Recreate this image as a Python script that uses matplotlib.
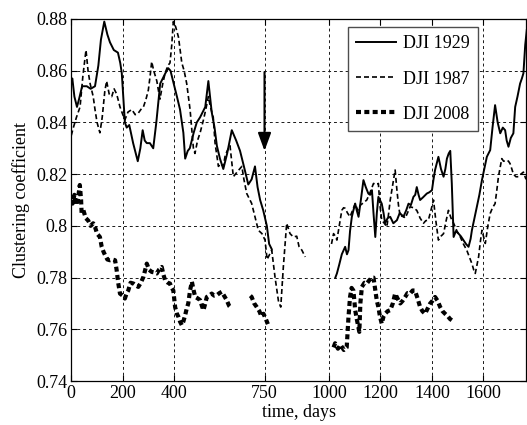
import numpy as np
import matplotlib
matplotlib.use("Agg")
import matplotlib.pyplot as plt

nan = np.nan

# --- DJI 1929 (solid) ---
days_1929 = [0, 4, 12, 22, 30, 42, 60, 75, 92, 105, 115, 128, 140, 150, 165, 181, 190, 196,
             208, 215, 225, 240, 258, 268, 277, 285, 293, 305, 318, 330, 345, 355, 365, 376,
             385, 395, 410, 422, 435, 442, 452, 460, 475, 487, 500, 520, 532, 545, 556, 565,
             577, 590, 605, 623, 640, 655, 670, 687, 700, 713, 723, 733, 745, 759, 768, 778,
             nan,
             1025, 1031, 1040, 1050, 1063, 1070, 1076, 1082, 1089, 1095, 1102, 1108, 1115,
             1124, 1134, 1143, 1153, 1160, 1167, 1173, 1180, 1186, 1192, 1205, 1212, 1218,
             1228, 1238, 1250, 1264, 1275, 1289, 1300, 1309, 1318, 1328, 1335, 1341, 1348,
             1354, 1365, 1380, 1390, 1400, 1406, 1412, 1418, 1425, 1435, 1445, 1452, 1458,
             1465, 1471, 1477, 1484, 1493, 1503, 1512, 1522, 1532, 1542, 1550, 1555, 1565,
             1574, 1584, 1594, 1603, 1613, 1626, 1635, 1645, 1655, 1665, 1675, 1684, 1690,
             1697, 1706, 1716, 1723, 1732, 1742, 1749, 1755, 1762, 1768]
cc_1929 = [0.856, 0.857, 0.850, 0.846, 0.849, 0.854, 0.854, 0.853, 0.854, 0.862, 0.872, 0.879,
           0.874, 0.871, 0.868, 0.867, 0.863, 0.859, 0.840, 0.838, 0.839, 0.832, 0.825, 0.830,
           0.837, 0.833, 0.832, 0.832, 0.830, 0.840, 0.855, 0.857, 0.859, 0.861, 0.860, 0.856,
           0.850, 0.845, 0.836, 0.826, 0.829, 0.830, 0.836, 0.840, 0.842, 0.846, 0.856, 0.844,
           0.838, 0.831, 0.826, 0.822, 0.828, 0.837, 0.833, 0.829, 0.823, 0.816, 0.818, 0.823,
           0.815, 0.810, 0.806, 0.800, 0.793, 0.791,
           nan,
           0.780, 0.7816, 0.785, 0.789, 0.7919, 0.789, 0.7906, 0.798, 0.8035, 0.806, 0.8086,
           0.806, 0.8035, 0.810, 0.8177, 0.815, 0.8125, 0.812, 0.8138, 0.805, 0.7957, 0.805,
           0.8112, 0.8086, 0.805, 0.801, 0.803, 0.8035, 0.801, 0.8022, 0.805, 0.8035, 0.806,
           0.8086, 0.808, 0.8112, 0.812, 0.815, 0.812, 0.810, 0.811, 0.8125, 0.813, 0.8138,
           0.818, 0.8216, 0.824, 0.8267, 0.822, 0.819, 0.822, 0.826, 0.828, 0.829, 0.8164,
           0.7957, 0.798, 0.797, 0.796, 0.7945, 0.793, 0.7919, 0.795, 0.7983, 0.803, 0.8074,
           0.812, 0.8177, 0.822, 0.8267, 0.8293, 0.838, 0.8467, 0.840, 0.8358, 0.838, 0.837,
           0.833, 0.8306, 0.834, 0.8358, 0.846, 0.850, 0.855, 0.857, 0.859, 0.870, 0.8757]

# --- DJI 1987 (dashed) ---
days_1987 = [0, 8, 20, 34, 45, 57, 65, 73, 85, 92, 100, 111, 120, 130, 137, 147, 157, 166, 176,
             189, 200, 208, 220, 235, 248, 260, 270, 280, 290, 299, 306, 312, 320, 332, 344, 355,
             364, 375, 383, 390, 396, 405, 416, 429, 438, 448, 461, 474, 480, 490, 500, 513, 522,
             532, 540, 551, 558, 571, 580, 590, 597, 605, 616, 629, 645, 662, 670, 681, 700, 713,
             726, 740, 752, 760, 770, 778, 791, 804, 813, 823, 836, 849, 862, 875, 884, 895, 908,
             nan,
             1010, 1018, 1025, 1031, 1040, 1050, 1057, 1063, 1072, 1082, 1092, 1102, 1112, 1122,
             1135, 1147, 1160, 1173, 1185, 1192, 1198, 1205, 1215, 1225, 1232, 1238, 1248, 1257,
             1264, 1270, 1277, 1286, 1296, 1305, 1315, 1328, 1341, 1354, 1367, 1376, 1386, 1396,
             1406, 1415, 1425, 1435, 1445, 1455, 1464, 1474, 1484, 1497, 1510, 1522, 1535, 1545,
             1555, 1562, 1568, 1575, 1581, 1588, 1594, 1600, 1607, 1617, 1626, 1635, 1645, 1652,
             1658, 1665, 1671, 1678, 1691, 1697, 1703, 1710, 1716, 1726, 1736, 1745, 1755, 1765]
cc_1987 = [0.835, 0.838, 0.842, 0.846, 0.858, 0.868, 0.860, 0.855, 0.850, 0.845, 0.840, 0.836,
           0.842, 0.852, 0.856, 0.851, 0.850, 0.853, 0.851, 0.846, 0.843, 0.841, 0.844, 0.845,
           0.843, 0.8436, 0.845, 0.846, 0.849, 0.8525, 0.858, 0.8635, 0.860, 0.856, 0.849, 0.855,
           0.859, 0.862, 0.863, 0.870, 0.879, 0.877, 0.873, 0.863, 0.860, 0.855, 0.845, 0.830,
           0.828, 0.833, 0.836, 0.841, 0.845, 0.850, 0.846, 0.842, 0.832, 0.823, 0.824, 0.823,
           0.827, 0.829, 0.831, 0.819, 0.821, 0.823, 0.818, 0.8125, 0.8087, 0.8035, 0.7983,
           0.797, 0.7945, 0.787, 0.789, 0.7906, 0.780, 0.771, 0.7686, 0.784, 0.801, 0.797,
           0.7957, 0.796, 0.792, 0.7906, 0.788,
           nan,
           0.793, 0.797, 0.796, 0.7945, 0.800, 0.806, 0.807, 0.8068, 0.805, 0.8035, 0.806,
           0.8086, 0.806, 0.808, 0.809, 0.810, 0.813, 0.8164, 0.816, 0.8164, 0.808, 0.8022,
           0.801, 0.7996, 0.805, 0.810, 0.816, 0.8216, 0.8138, 0.808, 0.8035, 0.804, 0.803,
           0.805, 0.8074, 0.807, 0.806, 0.803, 0.801, 0.802, 0.8022, 0.806, 0.810, 0.802,
           0.7945, 0.796, 0.797, 0.802, 0.806, 0.803, 0.801, 0.798, 0.7957, 0.793, 0.7906,
           0.788, 0.7854, 0.783, 0.7816, 0.785, 0.788, 0.794, 0.7983, 0.796, 0.7932, 0.800,
           0.8048, 0.807, 0.8086, 0.814, 0.819, 0.8228, 0.826, 0.825, 0.8254, 0.825, 0.8241,
           0.822, 0.820, 0.819, 0.819, 0.820, 0.8208, 0.818]

# --- DJI 2008 (thick dotted) ---
days_2008 = [0, 5, 12, 20, 28, 33, 38, 40, 47, 56, 66, 75, 85, 92, 100, 111, 118, 125, 131, 140,
             150, 160, 170, 176, 182, 189, 200, 208, 215, 221, 230, 241, 250, 260, 270, 280, 293,
             302, 312, 322, 332, 340, 351, 358, 364, 375, 383, 390, 396, 403, 410, 416, 422, 429,
             435, 442, 448, 454, 461, 468, 475, 481, 490, 500, 507, 513, 520, 526, 535, 545, 555,
             565, 575, 584, 593, 603, 613, 623,
             nan,
             695, 700, 710, 720, 730, 738, 746, 755, 763,
             nan,
             1018, 1024, 1035, 1045, 1058, 1069, 1076, 1082, 1088, 1095, 1102, 1108, 1118, 1122,
             1128, 1138, 1147, 1157, 1167, 1173, 1180, 1186, 1192, 1198, 1205, 1212, 1218, 1228,
             1238, 1248, 1257, 1266, 1277, 1286, 1296, 1305, 1315, 1325, 1334, 1344, 1354, 1363,
             1373, 1383, 1393, 1402, 1412, 1422, 1432, 1441, 1451, 1462, 1470, 1477]
cc_2008 = [0.810, 0.8086, 0.812, 0.808, 0.812, 0.8158, 0.810, 0.805, 0.806, 0.803, 0.802, 0.800,
           0.801, 0.7996, 0.797, 0.7957, 0.7919, 0.790, 0.7887, 0.787, 0.7867, 0.787, 0.7867,
           0.7829, 0.778, 0.7738, 0.773, 0.7719, 0.774, 0.775, 0.778, 0.7777, 0.777, 0.7764,
           0.778, 0.7803, 0.7854, 0.783, 0.7822, 0.782, 0.7816, 0.783, 0.7841, 0.781, 0.779,
           0.778, 0.7777, 0.776, 0.775, 0.7686, 0.766, 0.7648, 0.763, 0.7616, 0.763, 0.7655,
           0.768, 0.770, 0.775, 0.7784, 0.775, 0.7725, 0.772, 0.7713, 0.769, 0.7674, 0.770,
           0.7725, 0.773, 0.7738, 0.773, 0.7732, 0.774, 0.7745, 0.773, 0.7713, 0.769, 0.768,
           nan,
           0.773, 0.7725, 0.770, 0.7686, 0.767, 0.765, 0.766, 0.764, 0.762,
           nan,
           0.753, 0.7546, 0.7525, 0.754, 0.752, 0.753, 0.7648, 0.7725, 0.776, 0.775, 0.7674,
           0.764, 0.759, 0.770, 0.7764, 0.778, 0.7777, 0.779, 0.780, 0.780, 0.775, 0.771,
           0.7686, 0.765, 0.7622, 0.765, 0.766, 0.767, 0.7674, 0.770, 0.7738, 0.772, 0.770,
           0.771, 0.7725, 0.774, 0.7738, 0.775, 0.775, 0.772, 0.7686, 0.767, 0.766, 0.768,
           0.770, 0.771, 0.7725, 0.771, 0.7686, 0.767, 0.766, 0.765, 0.764, 0.7635]

x_ticks = [0, 200, 400, 750, 1000, 1200, 1400, 1600]
y_ticks = [0.74, 0.76, 0.78, 0.80, 0.82, 0.84, 0.86, 0.88]
y_ticklabels = ["0.74", "0.76", "0.78", "0.8", "0.82", "0.84", "0.86", "0.88"]
arrow_day = 750

plt.rcParams["font.family"] = ["Liberation Serif", "DejaVu Serif"]
plt.rcParams["font.size"] = 13

fig = plt.figure(figsize=(5.27, 4.25), dpi=100)
ax = fig.add_axes([0.1353, 0.1035, 0.8628, 0.8518])

ax.plot(days_1929, cc_1929, color="k", lw=1.4, ls="-", label="DJI 1929")
ax.plot(days_1987, cc_1987, color="k", lw=1.2, ls=(0, (3.0, 1.8)), label="DJI 1987")
ax.plot(days_2008, cc_2008, color="k", lw=3.0, ls=(0, (1.2, 0.8)), label="DJI 2008")

ax.annotate("", xy=(arrow_day, 0.829), xytext=(arrow_day, 0.8595),
            arrowprops=dict(arrowstyle="-|>,head_length=0.6,head_width=0.22",
                            color="k", lw=1.5, mutation_scale=18,
                            shrinkA=0, shrinkB=0))

ax.set_xlim(0, 1765)
ax.set_ylim(0.74, 0.88)
ax.set_xticks(x_ticks)
ax.set_yticks(y_ticks)
ax.set_yticklabels(y_ticklabels)
ax.grid(True, color="0.1", lw=0.7, ls=(0, (3, 3)))
ax.tick_params(direction="in", length=4.5, width=0.8, top=True, right=True, pad=3)
for s in ax.spines.values():
    s.set_linewidth(0.9)

ax.set_xlabel("time, days", labelpad=1)
ax.set_ylabel("Clustering coefficient", labelpad=4)

leg = ax.legend(loc="upper right", bbox_to_anchor=(0.895, 0.977), borderaxespad=0,
                fancybox=False, framealpha=1, edgecolor="0.3", handlelength=2.2,
                handletextpad=0.4, labelspacing=1.0, borderpad=0.45)
leg.get_frame().set_linewidth(1.0)

fig.savefig("out.png", dpi=100)
